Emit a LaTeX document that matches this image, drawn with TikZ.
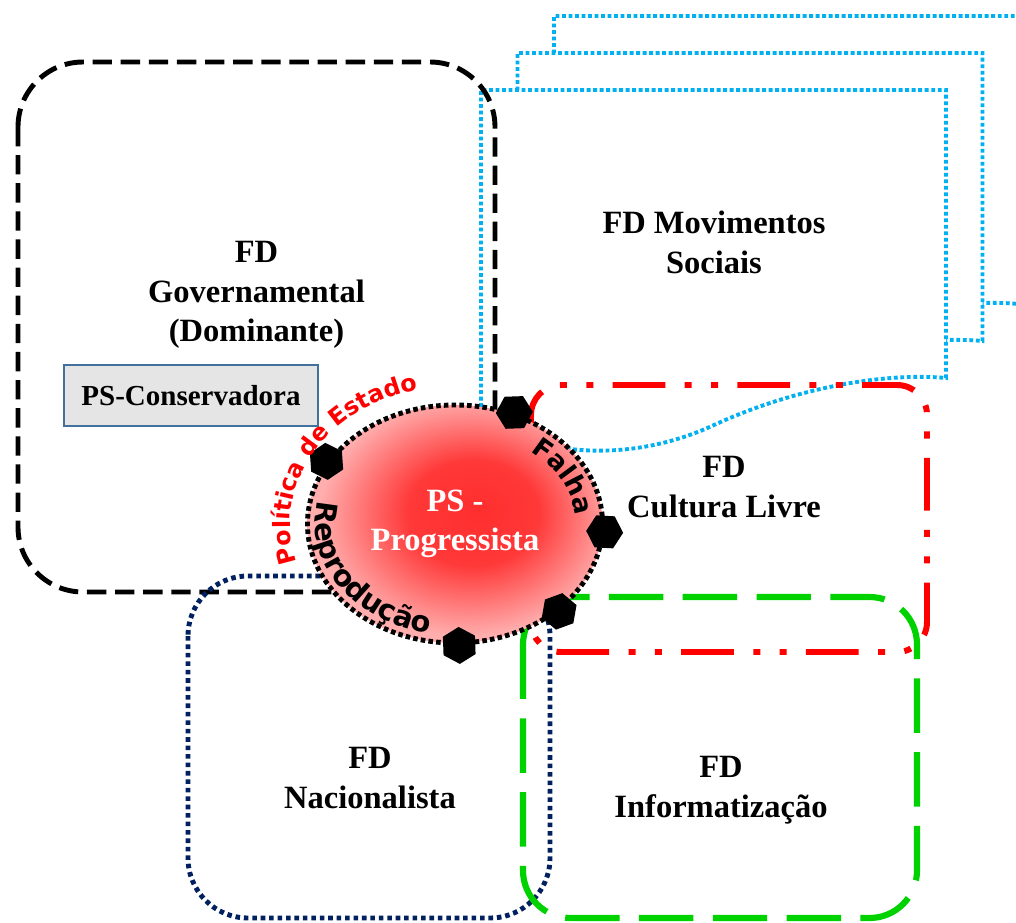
\documentclass[tikz,border=0pt]{standalone}
\usepackage{fontspec}
\setmainfont{Liberation Serif}
\setsansfont{Liberation Sans}
\newfontfamily\arcfont{DejaVu Sans}
\usepackage{tikz}
\usetikzlibrary{shapes.geometric,decorations.text}

\definecolor{fdblue}{RGB}{0,176,240}
\definecolor{fdnavy}{RGB}{0,32,96}
\definecolor{fdgreen}{RGB}{0,210,0}
\definecolor{psborder}{RGB}{65,113,156}

\pgfdeclareradialshading{psglow}{\pgfpoint{4bp}{3bp}}{color(0bp)=(red!82); color(11bp)=(red!78); color(25bp)=(red!32); color(50bp)=(red!32)}

\tikzset{
    fdtext/.style={align=center, font=\fontsize{18.5}{22.5}\selectfont\bfseries},
    docline/.style={color=fdblue, line width=2.2pt, dash pattern=on 2.2pt off 1.5pt},
    handle/.style={regular polygon, regular polygon sides=6, fill=black, inner sep=0pt, minimum size=0.74cm}
}

\begin{document}
\begin{tikzpicture}
            \useasboundingbox (0,0) rectangle (20.32,-18.44);
            % stacked sheets
            \foreach \s in {2,1,0} {
                \begin{scope}[shift={(0.73*\s,0.74*\s)}]
                    \filldraw[docline, fill=white] (9.62,-8.4) -- (9.62,-1.8) -- (18.92,-1.8) -- (18.92,-7.56)
                        .. controls (17.6,-7.44) and (15.8,-7.8) .. (14.28,-8.5)
                        .. controls (13,-9.1) and (11.2,-9.3) .. (9.62,-8.4) -- cycle;
                \end{scope}
            }
            \node[fdtext] (mov) at (14.28,-4.85) {FD Movimentos\\Sociais};
            % regions
            \draw[black, line width=2.8pt, dash pattern=on 11pt off 5pt, rounded corners=1.3cm] (0.36,-1.24) rectangle (9.9,-11.84);
            \draw[fdnavy, line width=2.8pt, dash pattern=on 2.6pt off 2.2pt, rounded corners=1.2cm] (3.76,-11.52) rectangle (11,-18.36);
            \draw[fdgreen, line width=3.5pt, dash pattern=on 31pt off 11pt, rounded corners=0.95cm] (10.46,-11.94) rectangle (18.34,-18.36);
            \draw[red, line width=3.4pt, dash pattern=on 30pt off 11pt on 4pt off 11pt on 4pt off 11pt, rounded corners=0.6cm] (10.62,-7.7) rectangle (18.54,-13.04);
            \node[fdtext] (gov) at (5.13,-5.9) {FD\\Governamental\\(Dominante)};
            \node[draw=psborder, fill=black!10, line width=0.8pt, minimum width=5.08cm, minimum height=1.22cm,
                font=\fontsize{16.5}{20}\selectfont\bfseries] (cons) at (3.82,-7.91) {PS-Conservadora};
            \node[fdtext] (cult) at (14.48,-9.74) {FD\\Cultura Livre};
            \node[fdtext] (nac) at (7.4,-15.56) {FD\\Nacionalista};
            \node[fdtext] (info) at (14.42,-15.8) {FD\\Informatização};
            % PS - Progressista
            \node[ellipse, draw=black, line width=2.8pt, dash pattern=on 2.6pt off 1.8pt, shading=psglow,
                minimum width=5.9cm, minimum height=4.76cm,
                inner sep=0pt, fdtext, text=white] (ps) at (9.1,-10.48) {PS -\\Progressista};
            \foreach \a/\n in {62/a,154/b,-3/c,-40/d,-88/e}
                \node[handle, rotate=\a] (hdl\n) at (ps.\a) {};
            \begin{scope}[shift={(ps.center)}]
                \path[decorate, decoration={text along path, text align=center,
                    text={|\color{red}\arcfont\bfseries\fontsize{13.5}{16}\selectfont|Política de Estado}}]
                    (204:3.3 and 2.76) arc[start angle=204, end angle=96, x radius=3.3, y radius=2.76];
                \path[decorate, decoration={text along path, text align=center,
                    text={|\arcfont\bfseries\fontsize{16.5}{19}\selectfont|Reprodução}}]
                    (160:2.79 and 2.22) arc[start angle=160, end angle=266, x radius=2.79, y radius=2.22];
                \path[decorate, decoration={text along path, text align=center,
                    text={|\arcfont\bfseries\fontsize{15}{18}\selectfont|Falha}}]
                    (58:2.42 and 1.85) arc[start angle=58, end angle=-3, x radius=2.42, y radius=1.85];
            \end{scope}
        \end{tikzpicture}
\end{document}
